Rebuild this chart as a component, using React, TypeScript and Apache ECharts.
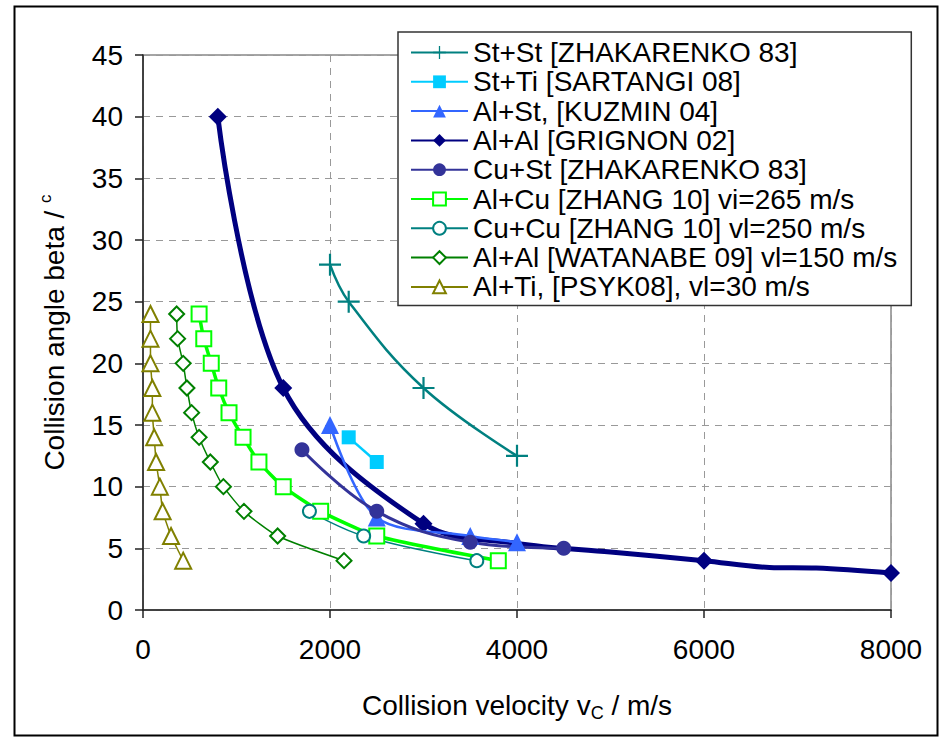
import React, { useEffect, useRef } from 'react';
import * as echarts from 'echarts';

// ---- data ----
const stStX = [2000, 2200, 3000, 4000];
const stStY = [28, 25, 18, 12.5];

const stTiX = [2200, 2500];
const stTiY = [14, 12];

const alStX = [2000, 2500, 3500, 4000];
const alStY = [15, 7.5, 6, 5.5];

const grignonX = [800, 1500, 3000, 4000, 5000, 6000, 6700, 7200, 8000];
const grignonY = [40, 18, 7, 5.4, 4.7, 4, 3.45, 3.4, 3];
const grignonMarkedX = [800, 1500, 3000, 6000, 8000];

const cuStX = [1700, 2500, 3500, 4500];
const cuStY = [13, 8, 5.5, 5];

const alCuX = [600, 650, 730, 810, 920, 1070, 1240, 1500, 1900, 2500, 3800];
const alCuY = [24, 22, 20, 18, 16, 14, 12, 10, 8, 6, 4];

const cuCuX = [1780, 2360, 3570];
const cuCuY = [8, 6, 4];

const watX = [360, 370, 430, 470, 520, 600, 720, 860, 1080, 1440, 2150];
const watY = [24, 22, 20, 18, 16, 14, 12, 10, 8, 6, 4];

const psykX = [80, 80, 80, 100, 100, 120, 140, 180, 210, 300, 430];
const psykY = [24, 22, 20, 18, 16, 14, 12, 10, 8, 6, 4];

const seriesNames = [
  'St+St [ZHAKARENKO 83]',
  'St+Ti [SARTANGI 08]',
  'Al+St, [KUZMIN 04]',
  'Al+Al [GRIGNON 02]',
  'Cu+St [ZHAKARENKO 83]',
  'Al+Cu [ZHANG 10] vi=265 m/s',
  'Cu+Cu [ZHANG 10] vl=250 m/s',
  'Al+Al [WATANABE 09] vl=150 m/s',
  'Al+Ti, [PSYK08], vl=30 m/s',
];

const FONT = '"Liberation Sans", Arial, sans-serif';
const PLUS = 'path://M9,0H11V9H20V11H11V20H9V11H0V9H9Z';

const pairs = (xs: number[], ys: number[]) => xs.map((x, i) => [x, ys[i]]);

export default function App() {
  const ref = useRef<HTMLDivElement>(null);
  useEffect(() => {
    if (!ref.current) return;
    const chart = echarts.init(ref.current, null, { renderer: 'svg' });

    const filled = (color: string) => ({ color, borderColor: color, borderWidth: 0 });
    const hollow = (color: string) => ({ color: '#ffffff', borderColor: color, borderWidth: 2 });

    const series: any[] = [
      {
        name: seriesNames[0], type: 'line', smooth: 0.4,
        data: pairs(stStX, stStY),
        symbol: PLUS, symbolSize: 22,
        lineStyle: { color: '#008080', width: 2.5 },
        itemStyle: filled('#008080'),
      },
      {
        name: seriesNames[1], type: 'line',
        data: pairs(stTiX, stTiY),
        symbol: 'rect', symbolSize: 14,
        lineStyle: { color: '#00CCFF', width: 2.5 },
        itemStyle: filled('#00CCFF'),
      },
      {
        name: seriesNames[2], type: 'line', smooth: 0.3,
        data: pairs(alStX, alStY),
        symbol: 'triangle', symbolSize: 18,
        lineStyle: { color: '#3366FF', width: 2.5 },
        itemStyle: filled('#3366FF'),
      },
      {
        name: seriesNames[3], type: 'line', smooth: 0.35, z: 1,
        data: grignonX.map((x, i) =>
          grignonMarkedX.includes(x)
            ? { value: [x, grignonY[i]] }
            : { value: [x, grignonY[i]], symbol: 'none' }
        ),
        symbol: 'diamond', symbolSize: 18,
        lineStyle: { color: '#000080', width: 5 },
        itemStyle: filled('#000080'),
      },
      {
        name: seriesNames[4], type: 'line', smooth: 0.4,
        data: pairs(cuStX, cuStY),
        symbol: 'circle', symbolSize: 15,
        lineStyle: { color: '#333399', width: 3 },
        itemStyle: filled('#333399'),
      },
      {
        name: seriesNames[5], type: 'line', smooth: 0.2,
        data: pairs(alCuX, alCuY),
        symbol: 'rect', symbolSize: 15,
        lineStyle: { color: '#00FF00', width: 3.5 },
        itemStyle: hollow('#00FF00'),
      },
      {
        name: seriesNames[6], type: 'line', smooth: 0.4,
        data: pairs(cuCuX, cuCuY),
        symbol: 'circle', symbolSize: 13,
        lineStyle: { color: '#008080', width: 1.5 },
        itemStyle: hollow('#008080'),
      },
      {
        name: seriesNames[7], type: 'line', smooth: 0.2,
        data: pairs(watX, watY),
        symbol: 'diamond', symbolSize: 15,
        lineStyle: { color: '#008000', width: 1.5 },
        itemStyle: hollow('#008000'),
      },
      {
        name: seriesNames[8], type: 'line', smooth: 0.1,
        data: pairs(psykX, psykY),
        symbol: 'triangle', symbolSize: 16,
        lineStyle: { color: '#808000', width: 1.5 },
        itemStyle: hollow('#808000'),
      },
    ];

    const gridLine = { show: true, lineStyle: { color: '#999999', width: 1, type: [7, 6] } };
    const axisLine = { show: true, onZero: false, lineStyle: { color: '#222222', width: 1.5 } };
    const axisTick = { show: true, inside: false, length: 8, lineStyle: { color: '#222222', width: 1.5 } };

    chart.setOption({
      animation: false,
      backgroundColor: '#ffffff',
      textStyle: { fontFamily: FONT },
      grid: {
        left: 143, right: 49, top: 55, bottom: 127,
        show: true, borderColor: '#888888', borderWidth: 1.5, backgroundColor: 'transparent',
      },
      xAxis: {
        type: 'value', min: 0, max: 8000, interval: 2000,
        axisLine, axisTick, splitLine: gridLine,
        axisLabel: {
          fontSize: 28, color: '#000', fontFamily: FONT, margin: 25,
          formatter: (v: number) => String(v),
        },
        name: '{n|Collision velocity v}{sub|C}{n| / m/s}',
        nameLocation: 'middle', nameGap: 78,
        nameTextStyle: {
          fontSize: 28, color: '#000', fontFamily: FONT,
          rich: {
            n: { fontSize: 28, lineHeight: 34, verticalAlign: 'middle', fontFamily: FONT, color: '#000' },
            sub: { fontSize: 18, lineHeight: 18, verticalAlign: 'bottom', fontFamily: FONT, color: '#000' },
          },
        },
      },
      yAxis: {
        type: 'value', min: 0, max: 45, interval: 5,
        axisLine, axisTick, splitLine: gridLine,
        axisLabel: { fontSize: 28, color: '#000', fontFamily: FONT, margin: 20 },
        name: '{n|Collision angle beta / }{sup|c}',
        nameLocation: 'middle', nameGap: 72, nameRotate: 90,
        nameTextStyle: {
          fontSize: 28, color: '#000', fontFamily: FONT,
          rich: {
            n: { fontSize: 28, lineHeight: 34, verticalAlign: 'middle', fontFamily: FONT, color: '#000' },
            sup: { fontSize: 17, lineHeight: 17, verticalAlign: 'top', fontFamily: FONT, color: '#000' },
          },
        },
      },
      legend: {
        show: true, orient: 'vertical', left: 398, top: 32,
        data: seriesNames,
        backgroundColor: '#ffffff', borderColor: '#333333', borderWidth: 1.5,
        padding: [6, 14, 4, 12],
        itemWidth: 57, itemHeight: 16, itemGap: 0.3,
        textStyle: { fontSize: 28, lineHeight: 29, color: '#000', fontFamily: FONT },
        z: 10,
      },
      graphic: [
        {
          type: 'rect', left: 12, top: 4, z: 100, silent: true,
          shape: { width: 923, height: 729 },
          style: { fill: 'none', stroke: '#000000', lineWidth: 2 },
        },
      ],
      series,
    });

    return () => chart.dispose();
  }, []);

  return (
    <div
      ref={ref}
      style={{ position: 'absolute', left: 0, top: 0, width: 940, height: 737, background: '#fff' }}
    />
  );
}
